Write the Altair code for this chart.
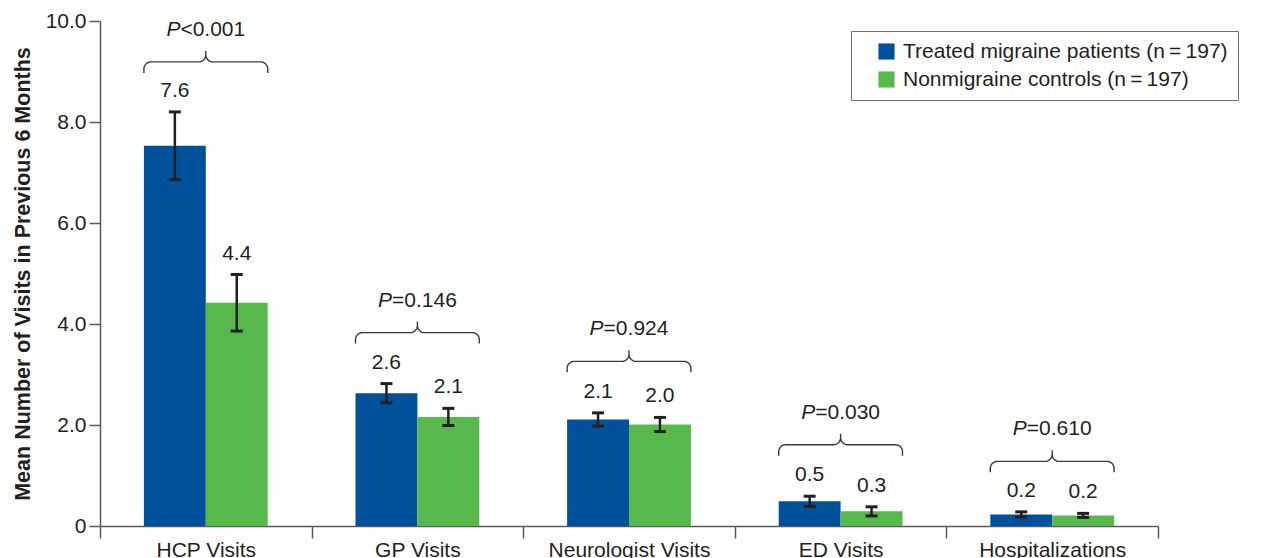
import json
import math
import altair as alt
import pandas as pd

# ---------------- data ----------------
categories = ["HCP Visits", "GP Visits", "Neurologist Visits", "ED Visits", "Hospitalizations"]
series_names = ["Treated migraine patients (n\u2009=\u2009197)", "Nonmigraine controls (n\u2009=\u2009197)"]
migraine_mean = [7.53, 2.63, 2.11, 0.49, 0.23]
migraine_err = [0.67, 0.19, 0.13, 0.10, 0.05]
migraine_labels = ["7.6", "2.6", "2.1", "0.5", "0.2"]
control_mean = [4.42, 2.16, 2.01, 0.29, 0.21]
control_err = [0.56, 0.17, 0.14, 0.09, 0.04]
control_labels = ["4.4", "2.1", "2.0", "0.3", "0.2"]
p_signs = ["<", "=", "=", "=", "="]
p_values = ["0.001", "0.146", "0.924", "0.030", "0.610"]
brace_levels = [9.19, 3.83, 3.26, 1.61, 1.28]
y_ticks = [0, 2, 4, 6, 8, 10]

# ---------------- layout / style ----------------
W, H = 1058, 505
PX_X = W / len(categories)
PX_Y = H / 10.0
BAR_L = 0.2075
BAR_W = 0.2925
BLUE = "#00519B"
GREEN = "#57B94B"
INK = "#231f20"
AXC = "#5a5a5a"
FONT = "Liberation Sans"

rows, caps = [], []
for i, c in enumerate(categories):
    for s, (m, e, lab) in enumerate([(migraine_mean[i], migraine_err[i], migraine_labels[i]),
                                      (control_mean[i], control_err[i], control_labels[i])]):
        x0 = i + BAR_L + s * BAR_W
        x1 = x0 + BAR_W
        xc = (x0 + x1) / 2
        rows.append(dict(cat=c, series=series_names[s], x0=x0, x1=x1, xc=xc,
                         mean=m, lo=m - e, hi=m + e, label=lab))
        for yv in (m - e, m + e):
            caps.append(dict(cl=xc - 6 / PX_X, cr=xc + 6 / PX_X, y=yv))
bars = pd.DataFrame(rows)
caps = pd.DataFrame(caps)

# curly braces
def brace_points(gw, r=7.0, h=11.0):
    pts = [(0, -h), (0, -r)]
    for k in range(1, 9):
        t = math.radians(180 - 90 * k / 8)
        pts.append((r + r * math.cos(t), -r + r * math.sin(t)))
    xc = gw / 2
    for k in range(0, 9):
        t = math.radians(-90 + 90 * k / 8)
        pts.append((xc - r + r * math.cos(t), r + r * math.sin(t)))
    pts.append((xc, h))
    for k in range(0, 9):
        t = math.radians(180 + 90 * k / 8)
        pts.append((xc + r + r * math.cos(t), r + r * math.sin(t)))
    for k in range(0, 9):
        t = math.radians(90 - 90 * k / 8)
        pts.append((gw - r + r * math.cos(t), -r + r * math.sin(t)))
    pts.append((gw, -h))
    return pts

gw_px = 2 * BAR_W * PX_X
brows = []
for i, c in enumerate(categories):
    for k, (dx, dy) in enumerate(brace_points(gw_px)):
        brows.append(dict(cat=c, k=k, x=i + BAR_L + dx / PX_X, y=brace_levels[i] + dy / PX_Y))
braces = pd.DataFrame(brows)

ptext = pd.DataFrame(dict(cat=categories, x=[i + 0.5 for i in range(len(categories))],
                          y=brace_levels, p=["P"] * len(categories),
                          rest=[s + v for s, v in zip(p_signs, p_values)]))

xscale = alt.Scale(domain=[0, len(categories)], nice=False)
yscale = alt.Scale(domain=[0, 10], nice=False)

x_axis = alt.Axis(values=list(range(len(categories) + 1)),
                  labelExpr=f"datum.value < {len(categories)} ? {json.dumps(categories)}[datum.value] : ''",
                  labelOffset=PX_X / 2, labelFlush=False, labelOverlap=False,
                  tickSize=12, labelPadding=1, title="", grid=False,
                  domainColor=AXC, tickColor=AXC, domainWidth=1.5, tickWidth=1.5,
                  labelFontSize=21, labelColor=INK, labelFont=FONT, labelBaseline="top")
y_axis = alt.Axis(values=y_ticks,
                  labelExpr="datum.value == 0 ? '0' : format(datum.value, '.1f')",
                  tickSize=11, labelPadding=3, grid=False,
                  domainColor=AXC, tickColor=AXC, domainWidth=1.5, tickWidth=1.5,
                  labelFontSize=21, labelColor=INK, labelFont=FONT,
                  title="Mean Number of Visits in Previous 6 Months",
                  titleFontSize=21.5, titleFontWeight="bold", titleColor=INK, titleFont=FONT,
                  titlePadding=11)


def X(field):
    return alt.X(field, scale=xscale, axis=x_axis, title="")


def Y(field):
    return alt.Y(field, scale=yscale, axis=y_axis, title="Mean Number of Visits in Previous 6 Months")


bar_layer = alt.Chart(bars).mark_bar(stroke=None).encode(
    x=X("x0:Q"),
    x2="x1:Q",
    y=Y("mean:Q"),
    y2=alt.datum(0),
    color=alt.Color("series:N", scale=alt.Scale(domain=series_names, range=[BLUE, GREEN]),
                    legend=alt.Legend(title=None, orient="none", legendX=751, legendY=10,
                                      strokeColor="#707070", fillColor="white", padding=10,
                                      symbolType="square", symbolSize=260, symbolStrokeWidth=0,
                                      symbolOffset=15, labelFontSize=21, labelFont=FONT,
                                      labelColor=INK, rowPadding=6, labelOffset=6,
                                      labelLimit=500)),
)

err_layer = alt.Chart(bars).mark_rule(color=INK, strokeWidth=2.5).encode(
    x=X("xc:Q"),
    y=Y("lo:Q"),
    y2="hi:Q",
)
cap_layer = alt.Chart(caps).mark_rule(color=INK, strokeWidth=3).encode(
    x=X("cl:Q"),
    x2="cr:Q",
    y=Y("y:Q"),
)
val_layer = alt.Chart(bars).mark_text(font=FONT, fontSize=21, color=INK, baseline="alphabetic",
                                      dy=-15).encode(
    x=X("xc:Q"),
    y=Y("hi:Q"),
    text="label:N",
)
brace_layer = alt.Chart(braces).mark_line(color="#3a3a3a", strokeWidth=1.4).encode(
    x=X("x:Q"),
    y=Y("y:Q"),
    detail="cat:N",
    order="k:Q",
)
PW = 21 * 0.667
TW = 21 * 3.753
p_layer = alt.Chart(ptext).mark_text(font=FONT, fontSize=21, fontStyle="italic", color=INK,
                                     align="right", baseline="alphabetic",
                                     dx=-TW / 2 + PW, dy=-26).encode(
    x=X("x:Q"),
    y=Y("y:Q"),
    text="p:N",
)
rest_layer = alt.Chart(ptext).mark_text(font=FONT, fontSize=21, color=INK,
                                        align="left", baseline="alphabetic",
                                        dx=-TW / 2 + PW, dy=-26).encode(
    x=X("x:Q"),
    y=Y("y:Q"),
    text="rest:N",
)

chart = alt.layer(bar_layer, err_layer, cap_layer, val_layer, brace_layer, p_layer, rest_layer).properties(
    width=W, height=H,
    autosize=alt.AutoSizeParams(type="none"),
    padding={"left": 92, "top": 13, "right": 95, "bottom": 36},
    background="white",
).configure_view(stroke=None)

chart.save("out.html", embed_options={"renderer": "svg", "actions": False})
